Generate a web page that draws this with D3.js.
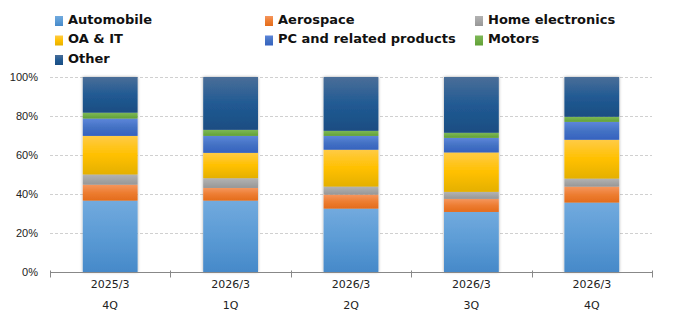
<!DOCTYPE html>
<html>
<head>
<meta charset="utf-8">
<script src="https://cdn.jsdelivr.net/npm/d3@7"></script>
<style>
  body { margin: 0; background: #fff; }
  svg { font-family: "DejaVu Sans", Verdana, sans-serif; }
  .axis text { font-size: 11px; fill: #222; }
  .legend text { font-size: 13px; font-weight: bold; fill: #111; }
</style>
</head>
<body>
<div id="chart"></div>
<script>
// periods (two label lines)
var periods = ["2025/3", "2026/3", "2026/3", "2026/3", "2026/3"];
var quarters = ["4Q", "1Q", "2Q", "3Q", "4Q"];

var seriesNames = ["Automobile", "Aerospace", "Home electronics", "OA & IT", "PC and related products", "Motors", "Other"];

// share in % per period
var automobile = [36.6, 36.6, 32.5, 30.8, 35.6];
var aerospace  = [8.2, 6.5, 7.2, 6.7, 8.2];
var homeElec   = [5.2, 5.0, 4.1, 3.6, 4.1];
var oaIt       = [19.8, 13.0, 18.9, 20.2, 19.9];
var pcRelated  = [8.9, 8.7, 7.1, 7.5, 9.2];
var motors     = [3.0, 3.1, 2.6, 2.6, 2.6];
var other      = [18.3, 27.1, 27.6, 28.6, 20.4];

var yTicks = [0, 20, 40, 60, 80, 100];

// top / middle / bottom gradient colours
var colors = [
  ["#72aade", "#5b9bd5", "#4689c9"],
  ["#f5965e", "#ed7d31", "#e46c1c"],
  ["#b3b3b3", "#a5a5a5", "#979797"],
  ["#ffcb45", "#ffc000", "#e4b000"],
  ["#5d86da", "#4472c4", "#3562bf"],
  ["#7db857", "#70ad47", "#60a035"],
  ["#4a6e98", "#215a93", "#1a4d82"]
];

var values = [automobile, aerospace, homeElec, oaIt, pcRelated, motors, other];

var table = periods.map(function(p, i) {
  var row = { idx: i };
  seriesNames.forEach(function(s, j) { row[s] = values[j][i]; });
  return row;
});

var w = 680, h = 330;
var plotLeft = 50, plotRight = 652, plotTop = 77, plotBottom = 272;

var svg = d3.select("#chart").append("svg")
    .attr("width", w)
    .attr("height", h);

var defs = svg.append("defs");
colors.forEach(function(c, j) {
  var g = defs.append("linearGradient")
      .attr("id", "grad" + j)
      .attr("x1", 0).attr("y1", 0).attr("x2", 0).attr("y2", 1);
  g.append("stop").attr("offset", "0%").attr("stop-color", c[0]);
  g.append("stop").attr("offset", "50%").attr("stop-color", c[1]);
  g.append("stop").attr("offset", "100%").attr("stop-color", c[2]);
});

var shadow = defs.append("filter").attr("id", "shadow")
    .attr("x", "-20%").attr("y", "-5%").attr("width", "140%").attr("height", "110%");
shadow.append("feDropShadow")
    .attr("dx", 0).attr("dy", 0)
    .attr("stdDeviation", 1.6)
    .attr("flood-color", "#000")
    .attr("flood-opacity", 0.35);

var xScale = d3.scaleBand()
    .domain(d3.range(periods.length))
    .range([plotLeft, plotRight])
    .paddingInner(0.545)
    .paddingOuter(0.2725);

var yScale = d3.scaleLinear()
    .domain([0, 100])
    .range([plotBottom, plotTop]);

// gridlines
svg.append("g")
    .selectAll("line")
    .data(yTicks.slice(1))
    .enter()
    .append("line")
    .attr("x1", plotLeft)
    .attr("x2", plotRight)
    .attr("y1", function(d) { return Math.round(yScale(d)) + 0.5; })
    .attr("y2", function(d) { return Math.round(yScale(d)) + 0.5; })
    .attr("stroke", "#d0d0d0")
    .attr("stroke-dasharray", "3,2");

// y axis labels
var yAxis = d3.axisLeft(yScale)
    .tickValues(yTicks)
    .tickSize(0)
    .tickPadding(12)
    .tickFormat(function(d) { return d + "%"; });

svg.append("g")
    .attr("class", "axis")
    .attr("transform", "translate(" + plotLeft + ",0)")
    .call(yAxis)
    .call(function(g) { g.select(".domain").remove(); });

// stacked bars
var stack = d3.stack().keys(seriesNames);
var layers = stack(table);

var barGroup = svg.append("g").attr("filter", "url(#shadow)");

periods.forEach(function(p, i) {
  var bar = barGroup.append("g");
  layers.forEach(function(layer, j) {
    var d = layer[i];
    bar.append("rect")
        .attr("x", xScale(i))
        .attr("width", xScale.bandwidth())
        .attr("y", yScale(d[1]))
        .attr("height", yScale(d[0]) - yScale(d[1]))
        .attr("fill", "url(#grad" + j + ")");
  });
});

// x axis with ticks at category boundaries
var xAxisG = svg.append("g")
    .attr("class", "axis")
    .attr("transform", "translate(0," + (plotBottom + 0.5) + ")");

xAxisG.append("line")
    .attr("x1", plotLeft).attr("x2", plotRight)
    .attr("stroke", "#888");

xAxisG.selectAll(".tk")
    .data(d3.range(periods.length + 1))
    .enter()
    .append("line")
    .attr("class", "tk")
    .attr("x1", function(d) { return Math.round(plotLeft + d * (plotRight - plotLeft) / periods.length) + 0.5; })
    .attr("x2", function(d) { return Math.round(plotLeft + d * (plotRight - plotLeft) / periods.length) + 0.5; })
    .attr("y1", -2)
    .attr("y2", 5)
    .attr("stroke", "#888");

xAxisG.selectAll(".lbl1")
    .data(periods)
    .enter()
    .append("text")
    .attr("x", function(d, i) { return xScale(i) + xScale.bandwidth() / 2; })
    .attr("y", 15)
    .attr("text-anchor", "middle")
    .text(function(d) { return d; });

xAxisG.selectAll(".lbl2")
    .data(quarters)
    .enter()
    .append("text")
    .attr("x", function(d, i) { return xScale(i) + xScale.bandwidth() / 2; })
    .attr("y", 36)
    .attr("text-anchor", "middle")
    .text(function(d) { return d; });

// legend
var legendX = [55, 265, 475];
var legend = svg.append("g").attr("class", "legend");
seriesNames.forEach(function(s, j) {
  var col = j % 3, row = Math.floor(j / 3);
  var g = legend.append("g")
      .attr("transform", "translate(" + legendX[col] + "," + (19 + row * 19.5) + ")");
  g.append("rect")
      .attr("x", 0).attr("y", -3)
      .attr("width", 8).attr("height", 10)
      .attr("fill", "url(#grad" + j + ")");
  g.append("text")
      .attr("x", 13)
      .attr("y", 0)
      .attr("dy", "0.35em")
      .text(s);
});
</script>
</body>
</html>
